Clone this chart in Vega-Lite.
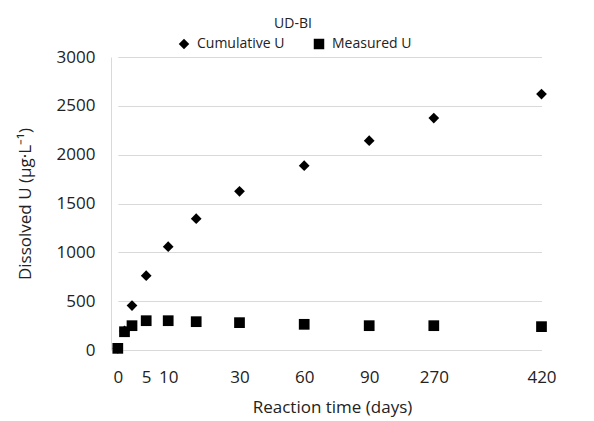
{
  "$schema": "https://vega.github.io/schema/vega-lite/v6.json",
  "autosize": {"type": "none"},
  "width": 482,
  "height": 293,
  "padding": {"left": 111, "top": 57, "right": 1, "bottom": 71},
  "title": {"text": "UD-BI", "anchor": "middle", "dx": -59, "offset": 6, "fontSize": 14, "font": "Open Sans", "fontWeight": "normal", "color": "#222222"},
  "config": {
    "view": {"stroke": null},
    "font": "Open Sans"
  },
  "data": {
    "values": [
      {"day": 0, "value": 17, "series": "Cumulative U"},
      {"day": 1, "value": 195, "series": "Cumulative U"},
      {"day": 3, "value": 455, "series": "Cumulative U"},
      {"day": 5, "value": 761, "series": "Cumulative U"},
      {"day": 10, "value": 1058, "series": "Cumulative U"},
      {"day": 20, "value": 1344, "series": "Cumulative U"},
      {"day": 30, "value": 1625, "series": "Cumulative U"},
      {"day": 60, "value": 1887, "series": "Cumulative U"},
      {"day": 90, "value": 2143, "series": "Cumulative U"},
      {"day": 270, "value": 2375, "series": "Cumulative U"},
      {"day": 420, "value": 2621, "series": "Cumulative U"},
      {"day": 0, "value": 17, "series": "Measured U"},
      {"day": 1, "value": 187, "series": "Measured U"},
      {"day": 3, "value": 249, "series": "Measured U"},
      {"day": 5, "value": 300, "series": "Measured U"},
      {"day": 10, "value": 300, "series": "Measured U"},
      {"day": 20, "value": 290, "series": "Measured U"},
      {"day": 30, "value": 280, "series": "Measured U"},
      {"day": 60, "value": 263, "series": "Measured U"},
      {"day": 90, "value": 249, "series": "Measured U"},
      {"day": 270, "value": 249, "series": "Measured U"},
      {"day": 420, "value": 239, "series": "Measured U"}
    ]
  },
  "mark": {"type": "point", "filled": true, "opacity": 1, "size": 115},
  "encoding": {
    "x": {
      "field": "day",
      "type": "quantitative",
      "scale": {
        "domain": [0, 1, 3, 5, 10, 20, 30, 60, 90, 270, 420],
        "range": [6.8, 13.5, 21, 35.2, 57.2, 85.2, 128.5, 193.2, 258.2, 322.8, 430.5],
        "clamp": false
      },
      "axis": {
        "values": [0, 5, 10, 30, 60, 90, 270, 420],
        "title": "Reaction time (days)",
        "titleFont": "Open Sans",
        "titleFontSize": 17,
        "titleFontWeight": "normal",
        "titleColor": "#222222",
        "titleX": 221,
        "titlePadding": 14,
        "labelFont": "Open Sans",
        "labelFontSize": 17,
        "labelColor": "#222222",
        "labelPadding": 19,
        "labelOverlap": false,
        "labelFlush": false,
        "ticks": false,
        "tickSize": 0,
        "grid": false,
        "domain": false
      }
    },
    "y": {
      "field": "value",
      "type": "quantitative",
      "scale": {"domain": [0, 3000], "nice": false},
      "axis": {
        "values": [0, 500, 1000, 1500, 2000, 2500, 3000],
        "format": "d",
        "title": "Dissolved U (μg·L⁻¹)",
        "titleFont": "Open Sans",
        "titleFontSize": 17,
        "titleFontWeight": "normal",
        "titleColor": "#222222",
        "titlePadding": 22,
        "labelFont": "Open Sans",
        "labelFontSize": 17,
        "labelColor": "#222222",
        "labelPadding": 16,
        "ticks": false,
        "tickSize": 0,
        "grid": true,
        "gridColor": "#d9d9d9",
        "gridWidth": 1,
        "domain": true,
        "domainColor": "#d9d9d9",
        "domainWidth": 1
      }
    },
    "shape": {
      "field": "series",
      "type": "nominal",
      "scale": {"domain": ["Cumulative U", "Measured U"], "range": ["diamond", "square"]},
      "legend": {
        "title": null,
        "orient": "none",
        "legendX": 66,
        "legendY": -20,
        "direction": "horizontal",
        "labelFont": "Open Sans",
        "labelFontSize": 14,
        "labelColor": "#222222",
        "columnPadding": 27,
        "symbolSize": 110,
        "symbolFillColor": "black",
        "symbolStrokeColor": "black",
        "symbolStrokeWidth": 0,
        "labelOffset": 6
      }
    },
    "color": {"value": "black"},
    "order": {"field": "series", "sort": "ascending"}
  }
}
